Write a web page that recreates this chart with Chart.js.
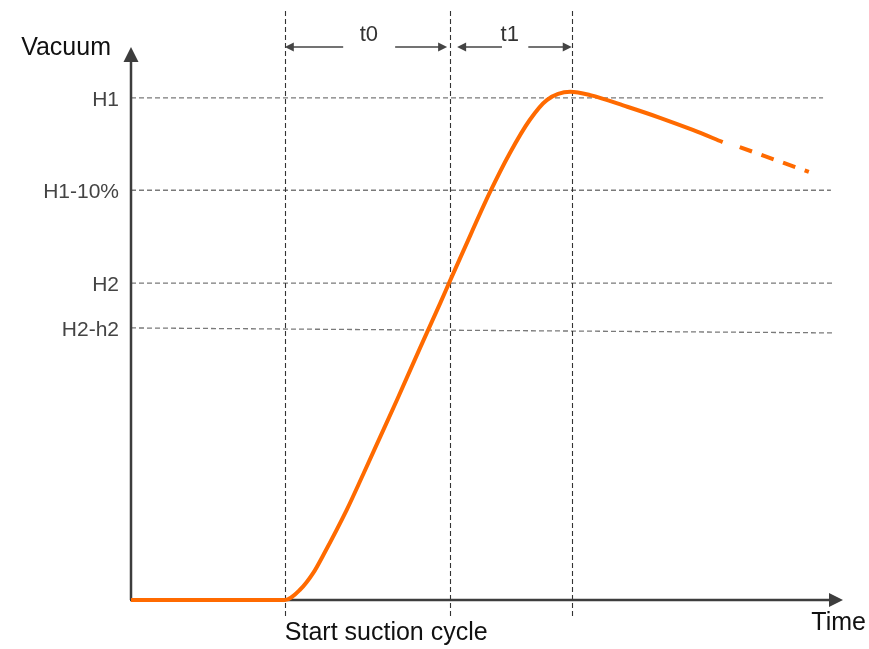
<!DOCTYPE html>
<html>
<head>
<meta charset="utf-8">
<script src="https://cdn.jsdelivr.net/npm/chart.js@4/dist/chart.umd.min.js"></script>
<style>
  body { margin: 0; background: #fff; }
</style>
</head>
<body>
<canvas id="myChart" width="869" height="649"></canvas>
<script>
// vacuum curve, arbitrary units (time 0-100, vacuum 0-100)
const timeValues = [0, 10, 21.6, 23.7, 25.6, 27.0, 30.3, 32.6, 35.0, 37.4, 40.6, 43.4, 44.8, 46.6, 50.4, 53.2, 56.0, 58.4, 61.7, 64.5, 69.7, 74.3, 78.9, 83.1];
const vacuumValues = [0, 0, 0, 1.8, 4.9, 8.1, 16.3, 22.7, 29.5, 36.3, 45.6, 53.6, 57.7, 62.9, 73.7, 80.8, 86.8, 90.4, 91.9, 91.3, 89.2, 87.2, 85.0, 82.8];
// dashed continuation
const trendTimes = [85.5, 95.2];
const trendValues = [81.9, 77.4];

// threshold levels
const levelLabels = ['H1', 'H1-10%', 'H2', 'H2-h2'];
const levelValues = [90.8, 74.1, 57.3, 49.2];
const levelEndValues = [90.8, 74.1, 57.3, 48.3];
const levelEnds = [97.2, 98.3, 98.6, 98.6];

// vertical markers: start suction, H2 reached, H1 reached
const markerTimes = [21.6, 44.8, 61.9];

// t0 / t1 spans
const spanLabels = ['t0', 't1'];
const spanLabelTimes = [33.4, 53.2];
const spanArrows = [
    [[29.8, 21.6], [37.1, 44.4]],
    [[52.1, 45.8], [55.8, 61.9]]
];

function arrowHead(ctx, x, y, dx, dy, len, half) {
    // filled triangle, tip at (x,y), pointing along (dx,dy)
    const bx = x - dx * len, by = y - dy * len;
    ctx.beginPath();
    ctx.moveTo(x, y);
    ctx.lineTo(bx - dy * half, by + dx * half);
    ctx.lineTo(bx + dy * half, by - dx * half);
    ctx.closePath();
    ctx.fill();
}

const guides = {
    id: 'guides',
    beforeDatasetsDraw(chart) {
        const ctx = chart.ctx;
        const x = chart.scales.x, y = chart.scales.y;
        const x0 = x.getPixelForValue(0), y0 = y.getPixelForValue(0);
        const xTop = x.getPixelForValue(100), yTop = y.getPixelForValue(100);
        ctx.save();

        // dashed levels
        ctx.lineWidth = 1.3;
        ctx.setLineDash([5, 3]);
        ctx.strokeStyle = '#7a7a7a';
        levelValues.forEach((v, i) => {
            ctx.beginPath();
            ctx.moveTo(x0, y.getPixelForValue(v));
            ctx.lineTo(x.getPixelForValue(levelEnds[i]), y.getPixelForValue(levelEndValues[i]));
            ctx.stroke();
        });

        // dashed markers
        ctx.strokeStyle = '#333';
        ctx.lineWidth = 1.1;
        markerTimes.forEach(t => {
            const px = Math.round(x.getPixelForValue(t)) + 0.5;
            ctx.beginPath();
            ctx.moveTo(px, y.getPixelForValue(106.5));
            ctx.lineTo(px, y.getPixelForValue(-3.4));
            ctx.stroke();
        });
        ctx.setLineDash([]);

        // axes
        ctx.strokeStyle = '#3d3d3d';
        ctx.fillStyle = '#3d3d3d';
        ctx.lineWidth = 2.5;
        ctx.beginPath();
        ctx.moveTo(x0, y0);
        ctx.lineTo(x0, yTop + 10);
        ctx.moveTo(x0 - 1, y0);
        ctx.lineTo(xTop - 10, y0);
        ctx.stroke();
        arrowHead(ctx, x0, yTop, 0, -1, 15, 7.5);
        arrowHead(ctx, xTop, y0, 1, 0, 14, 7);

        // span arrows
        ctx.strokeStyle = '#444';
        ctx.fillStyle = '#444';
        ctx.lineWidth = 1.3;
        spanArrows.forEach(pair => {
            pair.forEach(([from, to]) => {
                const a = x.getPixelForValue(from), b = x.getPixelForValue(to);
                const dir = Math.sign(b - a);
                ctx.beginPath();
                ctx.moveTo(a, yTop);
                ctx.lineTo(b - dir * 6, yTop);
                ctx.stroke();
                arrowHead(ctx, b, yTop, dir, 0, 9, 4.5);
            });
        });

        // texts
        ctx.textBaseline = 'alphabetic';
        ctx.font = '22px "Liberation Sans", Arial, sans-serif';
        ctx.fillStyle = '#333';
        ctx.textAlign = 'center';
        spanLabels.forEach((s, i) => {
            ctx.fillText(s, x.getPixelForValue(spanLabelTimes[i]), yTop - 6);
        });

        ctx.font = '21px "Liberation Sans", Arial, sans-serif';
        ctx.fillStyle = '#444';
        ctx.textAlign = 'right';
        levelLabels.forEach((s, i) => {
            ctx.fillText(s, x0 - 12, y.getPixelForValue(levelValues[i]) + 8);
        });

        ctx.font = '25px "Liberation Sans", Arial, sans-serif';
        ctx.fillStyle = '#111';
        ctx.textAlign = 'right';
        ctx.fillText('Vacuum', x0 - 20, yTop + 8);
        ctx.fillText('Time', xTop + 23, y0 + 30);
        ctx.textAlign = 'left';
        ctx.fillText('Start suction cycle', x.getPixelForValue(markerTimes[0]), y0 + 40);
        ctx.restore();
    }
};

const data = {
    datasets: [{
        label: 'Vacuum',
        data: timeValues.map((t, i) => ({ x: t, y: vacuumValues[i] })),
        borderColor: 'rgb(255,106,0)',
        borderWidth: 4,
        pointRadius: 0,
        cubicInterpolationMode: 'monotone',
        clip: false
    }, {
        label: 'Trend',
        data: trendTimes.map((t, i) => ({ x: t, y: trendValues[i] })),
        borderColor: 'rgb(255,106,0)',
        borderWidth: 4,
        borderDash: [13, 10],
        pointRadius: 0,
        clip: false
    }]
};

const config = {
    type: 'line',
    data: data,
    plugins: [guides],
    options: {
        responsive: false,
        animation: false,
        devicePixelRatio: 1,
        layout: {
            padding: { left: 131, right: 26, top: 47, bottom: 49 }
        },
        plugins: {
            legend: { display: false },
            tooltip: { enabled: false }
        },
        scales: {
            x: { type: 'linear', min: 0, max: 100, display: false },
            y: { type: 'linear', min: 0, max: 100, display: false }
        }
    }
};

const myChart = new Chart(document.getElementById('myChart'), config);
</script>
</body>
</html>
